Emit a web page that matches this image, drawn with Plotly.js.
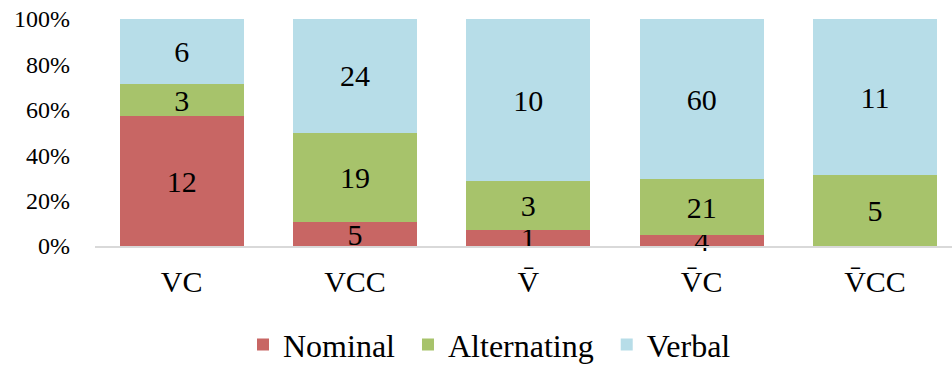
<!DOCTYPE html>
<html>
<head>
<meta charset="utf-8">
<script src="https://cdn.plot.ly/plotly-3.0.1.min.js"></script>
<style>html,body{margin:0;padding:0;background:#fff;}#chart{width:952px;height:365px;}</style>
</head>
<body>
<div id="chart"></div>
<script>
const categories = ["VC", "VCC", "V\u0304", "V\u0304C", "V\u0304CC"];
const nominal = [12, 5, 1, 4, 0];
const alternating = [3, 19, 3, 21, 5];
const verbal = [6, 24, 10, 60, 11];
const seriesNames = ["Nominal", "Alternating", "Verbal"];
const colors = ["#C86664", "#A7C36B", "#B7DDE8"];
const yTickVals = [0, 20, 40, 60, 80, 100];
const yTickText = ["0%", "20%", "40%", "60%", "80%", "100%"];

const font = "Liberation Serif";
const seriesData = [nominal, alternating, verbal];
const nameSpacer = "\u00A0";

const traces = seriesData.map((vals, i) => ({
  type: "bar",
  name: seriesNames[i] + (i < seriesNames.length - 1 ? nameSpacer : ""),
  x: categories,
  y: vals,
  text: vals.map(v => v ? String(v) : ""),
  texttemplate: "%{text}",
  textposition: "inside",
  insidetextanchor: "middle",
  textangle: 0,
  constraintext: "none",
  cliponaxis: false,
  textfont: {family: font, size: 30, color: "#000"},
  insidetextfont: {family: font, size: 30, color: "#000"},
  marker: {color: colors[i], line: {width: 0}},
  hoverinfo: "skip"
}));

const layout = {
  width: 952,
  height: 365,
  barmode: "stack",
  barnorm: "percent",
  bargap: 0.284,
  margin: {l: 95, r: 0, t: 19, b: 119, pad: 0, autoexpand: false},
  paper_bgcolor: "#fff",
  plot_bgcolor: "#fff",
  font: {family: font, color: "#000"},
  showlegend: true,
  legend: {
    orientation: "h",
    x: 0.1727,
    xanchor: "left",
    y: -0.435,
    yanchor: "middle",
    font: {family: font, size: 32, color: "#000"},
    traceorder: "normal"
  },
  xaxis: {
    type: "category",
    range: [-0.5, 4.444],
    showgrid: false,
    zeroline: false,
    showline: true,
    linecolor: "#D9D9D9",
    linewidth: 1.5,
    ticks: "",
    automargin: false,
    tickfont: {family: font, size: 30, color: "#000"},
    ticklabelstandoff: 8,
    fixedrange: true
  },
  yaxis: {
    range: [0, 100],
    tickvals: yTickVals,
    ticktext: yTickText,
    showgrid: false,
    zeroline: false,
    showline: false,
    ticks: "",
    automargin: false,
    tickfont: {family: font, size: 24, color: "#000"},
    ticklabelstandoff: 24,
    fixedrange: true
  }
};

Plotly.newPlot("chart", traces, layout, {staticPlot: true, displayModeBar: false});
</script>
</body>
</html>
